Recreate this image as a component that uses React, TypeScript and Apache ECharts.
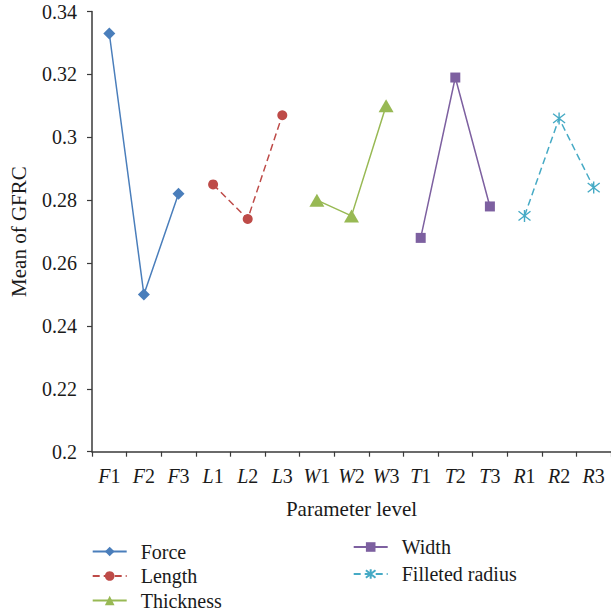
import React, { useEffect, useRef } from "react";
import * as echarts from "echarts";

const categories = ["F1", "F2", "F3", "L1", "L2", "L3", "W1", "W2", "W3", "T1", "T2", "T3", "R1", "R2", "R3"];
const forceValues = [0.333, 0.25, 0.282];
const lengthValues = [0.285, 0.274, 0.307];
const thicknessValues = [0.28, 0.275, 0.31];
const widthValues = [0.268, 0.319, 0.278];
const filletValues = [0.275, 0.306, 0.284];
const yTicks = { min: 0.2, max: 0.34, interval: 0.02 };

const FONT = "'Liberation Serif', 'Times New Roman', serif";
const TXT = "#1a1a1a";
const AXIS = "#3a3a3a";

const toPairs = (vals: number[], offset: number) =>
  vals.map((v, i) => [categories[offset + i], v]);

const asterisk = "path://M0,0L10,10M10,0L0,10M5,-1.5L5,11.5";

export default function App() {
  const ref = useRef<HTMLDivElement>(null);
  useEffect(() => {
    if (!ref.current) return;
    const chart = echarts.init(ref.current, undefined, { renderer: "svg" });
    const mk = (
      name: string,
      vals: number[],
      offset: number,
      color: string,
      symbol: string,
      symbolSize: any,
      dashed: boolean,
      extraItem: any = {}
    ) => ({
      name,
      type: "line",
      data: toPairs(vals, offset),
      symbol,
      symbolSize,
      showSymbol: true,
      lineStyle: { color, width: 1.5, type: dashed ? [7, 4] : "solid" },
      itemStyle: { color, borderWidth: 0, ...extraItem },
      emphasis: { disabled: true },
    });
    const legendText = { fontFamily: FONT, fontSize: 20, color: TXT, lineHeight: 20, padding: [0, 0, 0, 9] };
    chart.setOption({
      animation: false,
      grid: { left: 90.5, right: -3.3, top: 11.5, bottom: 161.3 },
      xAxis: {
        type: "category",
        data: categories,
        axisLine: { lineStyle: { color: AXIS, width: 1.5 } },
        axisTick: { show: true, length: 5, lineStyle: { color: AXIS, width: 1.2 } },
        axisLabel: {
          interval: 0,
          margin: 14,
          formatter: (v: string) => `{i|${v.charAt(0)}}{n|${v.slice(1)}}`,
          rich: {
            i: { fontStyle: "italic", fontFamily: FONT, fontSize: 20, color: TXT },
            n: { fontFamily: FONT, fontSize: 20, color: TXT },
          },
        },
        name: "Parameter level",
        nameLocation: "middle",
        nameGap: 47,
        nameTextStyle: { fontFamily: FONT, fontSize: 21, color: TXT },
      },
      yAxis: {
        type: "value",
        min: yTicks.min,
        max: yTicks.max,
        interval: yTicks.interval,
        splitLine: { show: false },
        axisLine: { show: true, lineStyle: { color: AXIS, width: 1.5 } },
        axisTick: { show: true, length: 5, lineStyle: { color: AXIS, width: 1.2 } },
        axisLabel: { margin: 15, fontFamily: FONT, fontSize: 20, color: TXT },
        name: "Mean of GFRC",
        nameLocation: "middle",
        nameRotate: 90,
        nameGap: 63,
        nameTextStyle: { fontFamily: FONT, fontSize: 21, color: TXT },
      },
      legend: [
        {
          data: ["Force", "Length", "Thickness"],
          orient: "vertical",
          left: 91.7,
          top: 541.5,
          padding: 0,
          height: 100,
          itemWidth: 34,
          itemHeight: 12,
          itemGap: 4.5,
          textStyle: legendText,
        },
        {
          data: ["Width", "Filleted radius"],
          orient: "vertical",
          left: 352.7,
          top: 537,
          padding: 0,
          height: 100,
          itemWidth: 34,
          itemHeight: 12,
          itemGap: 7,
          textStyle: legendText,
        },
      ],
      series: [
        mk("Force", forceValues, 0, "#4a7ebb", "diamond", 12, false),
        mk("Length", lengthValues, 3, "#be4b48", "circle", 10, true),
        mk("Thickness", thicknessValues, 6, "#98b954", "triangle", [15, 13], false),
        mk("Width", widthValues, 9, "#7d60a0", "rect", 10, false),
        mk("Filleted radius", filletValues, 12, "#46aac5", asterisk, 12, true, {
          color: "#46aac5",
          borderColor: "#46aac5",
          borderWidth: 1.4,
        }),
      ],
    });
    return () => chart.dispose();
  }, []);
  return (
    <div
      ref={ref}
      style={{ position: "absolute", left: 0, top: 0, width: 611, height: 613 }}
    />
  );
}
